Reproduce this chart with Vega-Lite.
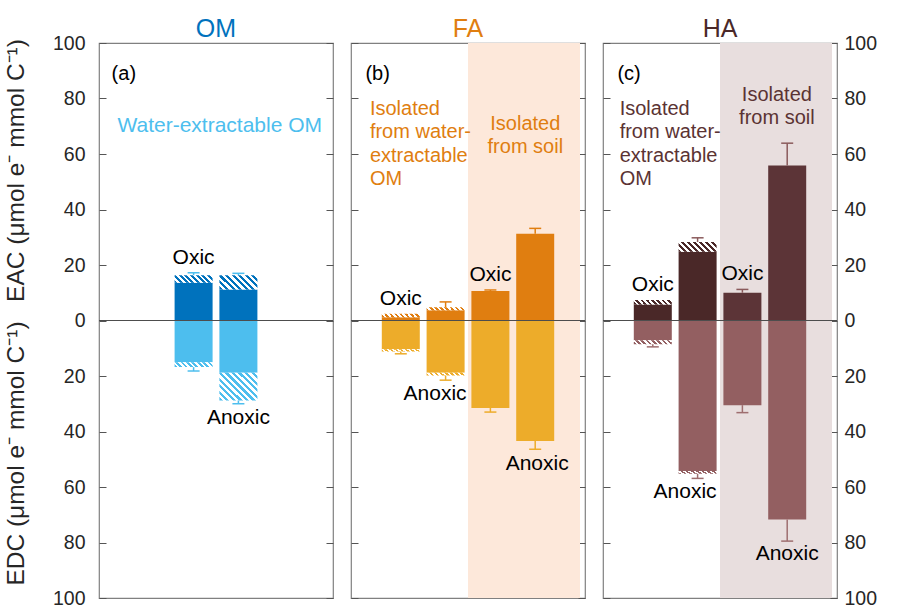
{
"$schema": "https://vega.github.io/schema/vega-lite/v6.json",
"background": "white",
"padding": {"left": 2, "top": 15, "right": 5, "bottom": 0},
"spacing": 14,
"config": {
  "font": "Liberation Sans",
  "view": {"stroke": "#808080", "strokeWidth": 1.2},
  "axis": {"domain": false, "grid": false, "tickSize": -7, "tickColor": "#555555", "tickWidth": 1, "labelFont": "Liberation Sans", "labelFontSize": 19.5, "labelColor": "#262626", "titleFont": "Liberation Sans", "titleFontSize": 24.5, "titleFontWeight": "normal", "titleColor": "#262626"},
  "title": {"font": "Liberation Sans", "fontSize": 25, "fontWeight": "normal", "frame": "group"},
  "text": {"font": "Liberation Sans"}
},
"datasets": {
  "bars": [
    {"panel": "OM", "pos": 2, "cond": "Oxic", "source": "water", "measure": "EAC", "solid": 13.6, "total": 16.3, "err": 17.2},
    {"panel": "OM", "pos": 2, "cond": "Oxic", "source": "water", "measure": "EDC", "solid": -15.0, "total": -16.8, "err": -18.2},
    {"panel": "OM", "pos": 3, "cond": "Anoxic", "source": "water", "measure": "EAC", "solid": 11.2, "total": 16.3, "err": 17.0},
    {"panel": "OM", "pos": 3, "cond": "Anoxic", "source": "water", "measure": "EDC", "solid": -18.8, "total": -28.8, "err": -30.0},
    {"panel": "FA", "pos": 1, "cond": "Oxic", "source": "water", "measure": "EAC", "solid": 1.2, "total": 2.4, "err": 2.4},
    {"panel": "FA", "pos": 1, "cond": "Oxic", "source": "water", "measure": "EDC", "solid": -10.4, "total": -11.2, "err": -12.0},
    {"panel": "FA", "pos": 2, "cond": "Anoxic", "source": "water", "measure": "EAC", "solid": 3.7, "total": 4.8, "err": 6.7},
    {"panel": "FA", "pos": 2, "cond": "Anoxic", "source": "water", "measure": "EDC", "solid": -18.8, "total": -19.8, "err": -21.5},
    {"panel": "FA", "pos": 3, "cond": "Oxic", "source": "soil", "measure": "EAC", "solid": 10.6, "total": 10.6, "err": 11.0},
    {"panel": "FA", "pos": 3, "cond": "Oxic", "source": "soil", "measure": "EDC", "solid": -31.5, "total": -31.5, "err": -33.0},
    {"panel": "FA", "pos": 4, "cond": "Anoxic", "source": "soil", "measure": "EAC", "solid": 31.3, "total": 31.3, "err": 33.2},
    {"panel": "FA", "pos": 4, "cond": "Anoxic", "source": "soil", "measure": "EDC", "solid": -43.4, "total": -43.4, "err": -46.4},
    {"panel": "HA", "pos": 1, "cond": "Oxic", "source": "water", "measure": "EAC", "solid": 5.8, "total": 7.4, "err": 7.4},
    {"panel": "HA", "pos": 1, "cond": "Oxic", "source": "water", "measure": "EDC", "solid": -7.1, "total": -8.6, "err": -9.5},
    {"panel": "HA", "pos": 2, "cond": "Anoxic", "source": "water", "measure": "EAC", "solid": 24.8, "total": 28.3, "err": 29.8},
    {"panel": "HA", "pos": 2, "cond": "Anoxic", "source": "water", "measure": "EDC", "solid": -54.2, "total": -55.2, "err": -56.9},
    {"panel": "HA", "pos": 3, "cond": "Oxic", "source": "soil", "measure": "EAC", "solid": 10.0, "total": 10.0, "err": 11.2},
    {"panel": "HA", "pos": 3, "cond": "Oxic", "source": "soil", "measure": "EDC", "solid": -30.5, "total": -30.5, "err": -33.2},
    {"panel": "HA", "pos": 4, "cond": "Anoxic", "source": "soil", "measure": "EAC", "solid": 55.9, "total": 55.9, "err": 63.9},
    {"panel": "HA", "pos": 4, "cond": "Anoxic", "source": "soil", "measure": "EDC", "solid": -71.7, "total": -71.7, "err": -79.5}
  ]
},
"hconcat": [
{
  "width": 234, "height": 555,
  "title": {"text": "OM", "color": "#0072BD", "offset": -9},
  "data": {"name": "bars"},
  "transform": [{"filter": "datum.panel == 'OM'"}],
  "resolve": {"axis": {"y": "independent"}},
  "layer": [
    {
      "mark": {"type": "bar", "width": 38},
      "encoding": {
        "x": {"field": "pos", "type": "quantitative", "scale": {"domain": [0, 5], "nice": false, "zero": false}, "axis": null},
        "y": {"field": "solid", "type": "quantitative", "scale": {"domain": [-100, 100], "nice": false}, "axis": {"orient": "left", "values": [-100, -80, -60, -40, -20, 0, 20, 40, 60, 80, 100], "labelExpr": "abs(datum.value)", "labelPadding": 21, "title": "EAC (μmol e⁻ mmol C⁻¹)", "titleX": -76, "titleY": 127, "titleAngle": -90, "titleBaseline": "alphabetic", "titleAlign": "center"}},
        "y2": {"datum": 0},
        "color": {"condition": {"test": "datum.measure == 'EAC'", "value": "#0072BD"}, "value": "#4DBEEE"}
      }
    },
    {
      "transform": [{"filter": "datum.measure == 'EAC' && datum.cond == 'Oxic'"}],
      "mark": {"type": "bar", "width": 38, "fill": {"gradient": "linear", "x1": 0, "y1": 1, "x2": 1.1525, "y2": 0.7725, "stops": [{"offset":0,"color":"#0072BD"},{"offset":0.0625,"color":"#0072BD"},{"offset":0.0625,"color":"#FFFFFF"},{"offset":0.125,"color":"#FFFFFF"},{"offset":0.125,"color":"#0072BD"},{"offset":0.1875,"color":"#0072BD"},{"offset":0.1875,"color":"#FFFFFF"},{"offset":0.25,"color":"#FFFFFF"},{"offset":0.25,"color":"#0072BD"},{"offset":0.3125,"color":"#0072BD"},{"offset":0.3125,"color":"#FFFFFF"},{"offset":0.375,"color":"#FFFFFF"},{"offset":0.375,"color":"#0072BD"},{"offset":0.4375,"color":"#0072BD"},{"offset":0.4375,"color":"#FFFFFF"},{"offset":0.5,"color":"#FFFFFF"},{"offset":0.5,"color":"#0072BD"},{"offset":0.5625,"color":"#0072BD"},{"offset":0.5625,"color":"#FFFFFF"},{"offset":0.625,"color":"#FFFFFF"},{"offset":0.625,"color":"#0072BD"},{"offset":0.6875,"color":"#0072BD"},{"offset":0.6875,"color":"#FFFFFF"},{"offset":0.75,"color":"#FFFFFF"},{"offset":0.75,"color":"#0072BD"},{"offset":0.8125,"color":"#0072BD"},{"offset":0.8125,"color":"#FFFFFF"},{"offset":0.875,"color":"#FFFFFF"},{"offset":0.875,"color":"#0072BD"},{"offset":0.9375,"color":"#0072BD"},{"offset":0.9375,"color":"#FFFFFF"},{"offset":1,"color":"#FFFFFF"}]}},
      "encoding": {
        "x": {"field": "pos", "type": "quantitative", "axis": null},
        "y": {"field": "solid", "type": "quantitative", "axis": null},
        "y2": {"field": "total"}
      }
    },
    {
      "transform": [{"filter": "datum.measure == 'EAC' && datum.cond == 'Anoxic'"}],
      "mark": {"type": "bar", "width": 38, "fill": {"gradient": "linear", "x1": 0, "y1": 1, "x2": 1.205, "y2": 0.5495, "stops": [{"offset":0,"color":"#0072BD"},{"offset":0.0625,"color":"#0072BD"},{"offset":0.0625,"color":"#FFFFFF"},{"offset":0.125,"color":"#FFFFFF"},{"offset":0.125,"color":"#0072BD"},{"offset":0.1875,"color":"#0072BD"},{"offset":0.1875,"color":"#FFFFFF"},{"offset":0.25,"color":"#FFFFFF"},{"offset":0.25,"color":"#0072BD"},{"offset":0.3125,"color":"#0072BD"},{"offset":0.3125,"color":"#FFFFFF"},{"offset":0.375,"color":"#FFFFFF"},{"offset":0.375,"color":"#0072BD"},{"offset":0.4375,"color":"#0072BD"},{"offset":0.4375,"color":"#FFFFFF"},{"offset":0.5,"color":"#FFFFFF"},{"offset":0.5,"color":"#0072BD"},{"offset":0.5625,"color":"#0072BD"},{"offset":0.5625,"color":"#FFFFFF"},{"offset":0.625,"color":"#FFFFFF"},{"offset":0.625,"color":"#0072BD"},{"offset":0.6875,"color":"#0072BD"},{"offset":0.6875,"color":"#FFFFFF"},{"offset":0.75,"color":"#FFFFFF"},{"offset":0.75,"color":"#0072BD"},{"offset":0.8125,"color":"#0072BD"},{"offset":0.8125,"color":"#FFFFFF"},{"offset":0.875,"color":"#FFFFFF"},{"offset":0.875,"color":"#0072BD"},{"offset":0.9375,"color":"#0072BD"},{"offset":0.9375,"color":"#FFFFFF"},{"offset":1,"color":"#FFFFFF"}]}},
      "encoding": {
        "x": {"field": "pos", "type": "quantitative", "axis": null},
        "y": {"field": "solid", "type": "quantitative", "axis": null},
        "y2": {"field": "total"}
      }
    },
    {
      "transform": [{"filter": "datum.measure == 'EDC' && datum.cond == 'Oxic'"}],
      "mark": {"type": "bar", "width": 38, "fill": {"gradient": "linear", "x1": 0, "y1": 1, "x2": 1.1123, "y2": 0.8536, "stops": [{"offset":0,"color":"#4DBEEE"},{"offset":0.0625,"color":"#4DBEEE"},{"offset":0.0625,"color":"#FFFFFF"},{"offset":0.125,"color":"#FFFFFF"},{"offset":0.125,"color":"#4DBEEE"},{"offset":0.1875,"color":"#4DBEEE"},{"offset":0.1875,"color":"#FFFFFF"},{"offset":0.25,"color":"#FFFFFF"},{"offset":0.25,"color":"#4DBEEE"},{"offset":0.3125,"color":"#4DBEEE"},{"offset":0.3125,"color":"#FFFFFF"},{"offset":0.375,"color":"#FFFFFF"},{"offset":0.375,"color":"#4DBEEE"},{"offset":0.4375,"color":"#4DBEEE"},{"offset":0.4375,"color":"#FFFFFF"},{"offset":0.5,"color":"#FFFFFF"},{"offset":0.5,"color":"#4DBEEE"},{"offset":0.5625,"color":"#4DBEEE"},{"offset":0.5625,"color":"#FFFFFF"},{"offset":0.625,"color":"#FFFFFF"},{"offset":0.625,"color":"#4DBEEE"},{"offset":0.6875,"color":"#4DBEEE"},{"offset":0.6875,"color":"#FFFFFF"},{"offset":0.75,"color":"#FFFFFF"},{"offset":0.75,"color":"#4DBEEE"},{"offset":0.8125,"color":"#4DBEEE"},{"offset":0.8125,"color":"#FFFFFF"},{"offset":0.875,"color":"#FFFFFF"},{"offset":0.875,"color":"#4DBEEE"},{"offset":0.9375,"color":"#4DBEEE"},{"offset":0.9375,"color":"#FFFFFF"},{"offset":1,"color":"#FFFFFF"}]}},
      "encoding": {
        "x": {"field": "pos", "type": "quantitative", "axis": null},
        "y": {"field": "solid", "type": "quantitative", "axis": null},
        "y2": {"field": "total"}
      }
    },
    {
      "transform": [{"filter": "datum.measure == 'EDC' && datum.cond == 'Anoxic'"}],
      "mark": {"type": "bar", "width": 38, "fill": {"gradient": "linear", "x1": 0, "y1": 1, "x2": 1.128, "y2": 0.1749, "stops": [{"offset":0,"color":"#4DBEEE"},{"offset":0.05,"color":"#4DBEEE"},{"offset":0.05,"color":"#FFFFFF"},{"offset":0.1,"color":"#FFFFFF"},{"offset":0.1,"color":"#4DBEEE"},{"offset":0.15,"color":"#4DBEEE"},{"offset":0.15,"color":"#FFFFFF"},{"offset":0.2,"color":"#FFFFFF"},{"offset":0.2,"color":"#4DBEEE"},{"offset":0.25,"color":"#4DBEEE"},{"offset":0.25,"color":"#FFFFFF"},{"offset":0.3,"color":"#FFFFFF"},{"offset":0.3,"color":"#4DBEEE"},{"offset":0.35,"color":"#4DBEEE"},{"offset":0.35,"color":"#FFFFFF"},{"offset":0.4,"color":"#FFFFFF"},{"offset":0.4,"color":"#4DBEEE"},{"offset":0.45,"color":"#4DBEEE"},{"offset":0.45,"color":"#FFFFFF"},{"offset":0.5,"color":"#FFFFFF"},{"offset":0.5,"color":"#4DBEEE"},{"offset":0.55,"color":"#4DBEEE"},{"offset":0.55,"color":"#FFFFFF"},{"offset":0.6,"color":"#FFFFFF"},{"offset":0.6,"color":"#4DBEEE"},{"offset":0.65,"color":"#4DBEEE"},{"offset":0.65,"color":"#FFFFFF"},{"offset":0.7,"color":"#FFFFFF"},{"offset":0.7,"color":"#4DBEEE"},{"offset":0.75,"color":"#4DBEEE"},{"offset":0.75,"color":"#FFFFFF"},{"offset":0.8,"color":"#FFFFFF"},{"offset":0.8,"color":"#4DBEEE"},{"offset":0.85,"color":"#4DBEEE"},{"offset":0.85,"color":"#FFFFFF"},{"offset":0.9,"color":"#FFFFFF"},{"offset":0.9,"color":"#4DBEEE"},{"offset":0.95,"color":"#4DBEEE"},{"offset":0.95,"color":"#FFFFFF"},{"offset":1,"color":"#FFFFFF"}]}},
      "encoding": {
        "x": {"field": "pos", "type": "quantitative", "axis": null},
        "y": {"field": "solid", "type": "quantitative", "axis": null},
        "y2": {"field": "total"}
      }
    },
    {
      "transform": [{"filter": "datum.err != datum.total"}],
      "mark": {"type": "rule", "strokeWidth": 1.5},
      "encoding": {
        "x": {"field": "pos", "type": "quantitative", "axis": null},
        "y": {"field": "total", "type": "quantitative", "axis": {"orient": "left", "labels": false, "ticks": false, "domain": false, "title": "EDC (μmol e⁻ mmol C⁻¹)", "titleX": -76, "titleY": 410, "titleAngle": -90, "titleBaseline": "alphabetic", "titleAlign": "center"}},
        "y2": {"field": "err"},
        "color": {"value": "#4DBEEE"}
      }
    },
    {
      "transform": [{"filter": "datum.err != datum.total"}],
      "mark": {"type": "point", "shape": "stroke", "size": 144, "strokeWidth": 1.5, "filled": false, "opacity": 1},
      "encoding": {
        "x": {"field": "pos", "type": "quantitative", "axis": null},
        "y": {"field": "err", "type": "quantitative", "axis": null},
        "color": {"value": "#4DBEEE"}
      }
    },
    {
      "data": {"values": [{}]},
      "mark": {"type": "rule", "color": "#4D4D4D", "strokeWidth": 1},
      "encoding": {
        "y": {"datum": 0, "type": "quantitative", "axis": {"orient": "right", "values": [-100, -80, -60, -40, -20, 0, 20, 40, 60, 80, 100], "labels": false, "title": null}}
      }
    },
    {
      "data": {"values": [{}]},
      "mark": {"type": "text", "text": "(a)", "align": "left", "baseline": "middle", "fontSize": 20, "color": "#000000"},
      "encoding": {
        "x": {"datum": 0.17, "type": "quantitative", "axis": null},
        "y": {"datum": 89, "type": "quantitative", "axis": null}
      }
    },
    {
      "data": {"values": [{}]},
      "mark": {"type": "text", "text": "Water-extractable OM", "align": "left", "baseline": "middle", "fontSize": 21, "color": "#4DBEEE"},
      "encoding": {
        "x": {"datum": 0.3, "type": "quantitative", "axis": null},
        "y": {"datum": 70.1, "type": "quantitative", "axis": null}
      }
    },
    {
      "transform": [{"filter": "datum.measure == 'EAC' && datum.cond == 'Oxic'"}],
      "mark": {"type": "text", "align": "center", "baseline": "middle", "dy": -15, "fontSize": 21, "color": "#000000"},
      "encoding": {
        "x": {"field": "pos", "type": "quantitative", "axis": null},
        "y": {"field": "err", "type": "quantitative", "axis": null},
        "text": {"field": "cond"}
      }
    },
    {
      "transform": [{"filter": "datum.measure == 'EDC' && datum.cond == 'Anoxic'"}],
      "mark": {"type": "text", "align": "center", "baseline": "middle", "dy": 14, "fontSize": 21, "color": "#000000"},
      "encoding": {
        "x": {"field": "pos", "type": "quantitative", "axis": null},
        "y": {"field": "err", "type": "quantitative", "axis": null},
        "text": {"field": "cond"}
      }
    }
  ]
},
{
  "width": 234, "height": 555,
  "title": {"text": "FA", "color": "#E07E10", "offset": 1},
  "data": {"name": "bars"},
  "transform": [{"filter": "datum.panel == 'FA'"}],
  "resolve": {"axis": {"y": "independent"}},
  "layer": [
    {
      "data": {"values": [{}]},
      "mark": {"type": "rect", "color": "#FDE8DA"},
      "encoding": {
        "x": {"datum": 2.5, "type": "quantitative", "scale": {"domain": [0, 5], "nice": false, "zero": false}, "axis": null},
        "x2": {"datum": 5},
        "y": {"datum": -100, "type": "quantitative", "scale": {"domain": [-100, 100], "nice": false}, "axis": null},
        "y2": {"datum": 100}
      }
    },
    {
      "mark": {"type": "bar", "width": 38},
      "encoding": {
        "x": {"field": "pos", "type": "quantitative", "scale": {"domain": [0, 5], "nice": false, "zero": false}, "axis": null},
        "y": {"field": "solid", "type": "quantitative", "scale": {"domain": [-100, 100], "nice": false}, "axis": {"orient": "left", "values": [-100, -80, -60, -40, -20, 0, 20, 40, 60, 80, 100], "labels": false, "title": null}},
        "y2": {"datum": 0},
        "color": {"condition": {"test": "datum.measure == 'EAC'", "value": "#E07E10"}, "value": "#EDAC2A"}
      }
    },
    {
      "transform": [{"filter": "datum.measure == 'EAC' && datum.solid != datum.total"}],
      "mark": {"type": "bar", "width": 38, "fill": {"gradient": "linear", "x1": 0, "y1": 1, "x2": 1.072, "y2": 0.915, "stops": [{"offset":0,"color":"#E07E10"},{"offset":0.0625,"color":"#E07E10"},{"offset":0.0625,"color":"#FFFFFF"},{"offset":0.125,"color":"#FFFFFF"},{"offset":0.125,"color":"#E07E10"},{"offset":0.1875,"color":"#E07E10"},{"offset":0.1875,"color":"#FFFFFF"},{"offset":0.25,"color":"#FFFFFF"},{"offset":0.25,"color":"#E07E10"},{"offset":0.3125,"color":"#E07E10"},{"offset":0.3125,"color":"#FFFFFF"},{"offset":0.375,"color":"#FFFFFF"},{"offset":0.375,"color":"#E07E10"},{"offset":0.4375,"color":"#E07E10"},{"offset":0.4375,"color":"#FFFFFF"},{"offset":0.5,"color":"#FFFFFF"},{"offset":0.5,"color":"#E07E10"},{"offset":0.5625,"color":"#E07E10"},{"offset":0.5625,"color":"#FFFFFF"},{"offset":0.625,"color":"#FFFFFF"},{"offset":0.625,"color":"#E07E10"},{"offset":0.6875,"color":"#E07E10"},{"offset":0.6875,"color":"#FFFFFF"},{"offset":0.75,"color":"#FFFFFF"},{"offset":0.75,"color":"#E07E10"},{"offset":0.8125,"color":"#E07E10"},{"offset":0.8125,"color":"#FFFFFF"},{"offset":0.875,"color":"#FFFFFF"},{"offset":0.875,"color":"#E07E10"},{"offset":0.9375,"color":"#E07E10"},{"offset":0.9375,"color":"#FFFFFF"},{"offset":1,"color":"#FFFFFF"}]}},
      "encoding": {
        "x": {"field": "pos", "type": "quantitative", "axis": null},
        "y": {"field": "solid", "type": "quantitative", "axis": null},
        "y2": {"field": "total"}
      }
    },
    {
      "transform": [{"filter": "datum.measure == 'EDC' && datum.solid != datum.total"}],
      "mark": {"type": "bar", "width": 38, "fill": {"gradient": "linear", "x1": 0, "y1": 1, "x2": 1.072, "y2": 0.915, "stops": [{"offset":0,"color":"#EDAC2A"},{"offset":0.0625,"color":"#EDAC2A"},{"offset":0.0625,"color":"#FFFFFF"},{"offset":0.125,"color":"#FFFFFF"},{"offset":0.125,"color":"#EDAC2A"},{"offset":0.1875,"color":"#EDAC2A"},{"offset":0.1875,"color":"#FFFFFF"},{"offset":0.25,"color":"#FFFFFF"},{"offset":0.25,"color":"#EDAC2A"},{"offset":0.3125,"color":"#EDAC2A"},{"offset":0.3125,"color":"#FFFFFF"},{"offset":0.375,"color":"#FFFFFF"},{"offset":0.375,"color":"#EDAC2A"},{"offset":0.4375,"color":"#EDAC2A"},{"offset":0.4375,"color":"#FFFFFF"},{"offset":0.5,"color":"#FFFFFF"},{"offset":0.5,"color":"#EDAC2A"},{"offset":0.5625,"color":"#EDAC2A"},{"offset":0.5625,"color":"#FFFFFF"},{"offset":0.625,"color":"#FFFFFF"},{"offset":0.625,"color":"#EDAC2A"},{"offset":0.6875,"color":"#EDAC2A"},{"offset":0.6875,"color":"#FFFFFF"},{"offset":0.75,"color":"#FFFFFF"},{"offset":0.75,"color":"#EDAC2A"},{"offset":0.8125,"color":"#EDAC2A"},{"offset":0.8125,"color":"#FFFFFF"},{"offset":0.875,"color":"#FFFFFF"},{"offset":0.875,"color":"#EDAC2A"},{"offset":0.9375,"color":"#EDAC2A"},{"offset":0.9375,"color":"#FFFFFF"},{"offset":1,"color":"#FFFFFF"}]}},
      "encoding": {
        "x": {"field": "pos", "type": "quantitative", "axis": null},
        "y": {"field": "solid", "type": "quantitative", "axis": null},
        "y2": {"field": "total"}
      }
    },
    {
      "transform": [{"filter": "datum.err != datum.total"}],
      "mark": {"type": "rule", "strokeWidth": 1.5},
      "encoding": {
        "x": {"field": "pos", "type": "quantitative", "axis": null},
        "y": {"field": "total", "type": "quantitative", "axis": null},
        "y2": {"field": "err"},
        "color": {"condition": {"test": "datum.measure == 'EAC'", "value": "#E07E10"}, "value": "#EDAC2A"}
      }
    },
    {
      "transform": [{"filter": "datum.err != datum.total"}],
      "mark": {"type": "point", "shape": "stroke", "size": 144, "strokeWidth": 1.5, "filled": false, "opacity": 1},
      "encoding": {
        "x": {"field": "pos", "type": "quantitative", "axis": null},
        "y": {"field": "err", "type": "quantitative", "axis": null},
        "color": {"condition": {"test": "datum.measure == 'EAC'", "value": "#E07E10"}, "value": "#EDAC2A"}
      }
    },
    {
      "data": {"values": [{}]},
      "mark": {"type": "rule", "color": "#4D4D4D", "strokeWidth": 1},
      "encoding": {
        "y": {"datum": 0, "type": "quantitative", "axis": {"orient": "right", "values": [-100, -80, -60, -40, -20, 0, 20, 40, 60, 80, 100], "labels": false, "title": null}}
      }
    },
    {
      "data": {"values": [{}]},
      "mark": {"type": "text", "text": "(b)", "align": "left", "baseline": "middle", "fontSize": 20, "color": "#000000"},
      "encoding": {
        "x": {"datum": 0.21, "type": "quantitative", "axis": null},
        "y": {"datum": 88.8, "type": "quantitative", "axis": null}
      }
    },
    {
      "data": {"values": [{}]},
      "mark": {"type": "text", "text": ["Isolated", "from water-", "extractable", "OM"], "lineHeight": 23.4, "align": "left", "baseline": "top", "fontSize": 20, "color": "#E07E10"},
      "encoding": {
        "x": {"datum": 0.31, "type": "quantitative", "axis": null},
        "y": {"datum": 79.9, "type": "quantitative", "axis": null}
      }
    },
    {
      "data": {"values": [{}]},
      "mark": {"type": "text", "text": ["Isolated", "from soil"], "lineHeight": 23.4, "align": "center", "baseline": "top", "fontSize": 20, "color": "#E07E10"},
      "encoding": {
        "x": {"datum": 3.78, "type": "quantitative", "axis": null},
        "y": {"datum": 74.5, "type": "quantitative", "axis": null}
      }
    },
    {
      "transform": [{"filter": "datum.measure == 'EAC' && datum.cond == 'Oxic'"}],
      "mark": {"type": "text", "align": "center", "baseline": "middle", "dy": -15, "fontSize": 21, "color": "#000000"},
      "encoding": {
        "x": {"field": "pos", "type": "quantitative", "axis": null},
        "y": {"field": "err", "type": "quantitative", "axis": null},
        "text": {"field": "cond"}
      }
    },
    {
      "transform": [{"filter": "datum.measure == 'EDC' && datum.cond == 'Anoxic' && datum.source == 'water'"}],
      "mark": {"type": "text", "align": "right", "baseline": "middle", "dx": 21, "dy": 14, "fontSize": 21, "color": "#000000"},
      "encoding": {
        "x": {"field": "pos", "type": "quantitative", "axis": null},
        "y": {"field": "err", "type": "quantitative", "axis": null},
        "text": {"field": "cond"}
      }
    },
    {
      "transform": [{"filter": "datum.measure == 'EDC' && datum.cond == 'Anoxic' && datum.source == 'soil'"}],
      "mark": {"type": "text", "align": "center", "baseline": "middle", "dx": 2, "dy": 15, "fontSize": 21, "color": "#000000"},
      "encoding": {
        "x": {"field": "pos", "type": "quantitative", "axis": null},
        "y": {"field": "err", "type": "quantitative", "axis": null},
        "text": {"field": "cond"}
      }
    }
  ]
},
{
  "width": 234, "height": 555,
  "title": {"text": "HA", "color": "#4A2828", "offset": -9},
  "data": {"name": "bars"},
  "transform": [{"filter": "datum.panel == 'HA'"}],
  "resolve": {"axis": {"y": "independent"}},
  "layer": [
    {
      "data": {"values": [{}]},
      "mark": {"type": "rect", "color": "#E8DEDE"},
      "encoding": {
        "x": {"datum": 2.5, "type": "quantitative", "scale": {"domain": [0, 5], "nice": false, "zero": false}, "axis": null},
        "x2": {"datum": 5},
        "y": {"datum": -100, "type": "quantitative", "scale": {"domain": [-100, 100], "nice": false}, "axis": null},
        "y2": {"datum": 100}
      }
    },
    {
      "mark": {"type": "bar", "width": 38},
      "encoding": {
        "x": {"field": "pos", "type": "quantitative", "scale": {"domain": [0, 5], "nice": false, "zero": false}, "axis": null},
        "y": {"field": "solid", "type": "quantitative", "scale": {"domain": [-100, 100], "nice": false}, "axis": {"orient": "left", "values": [-100, -80, -60, -40, -20, 0, 20, 40, 60, 80, 100], "labels": false, "title": null}},
        "y2": {"datum": 0},
        "color": {"condition": [{"test": "datum.measure == 'EAC' && datum.source == 'soil'", "value": "#5C3437"}, {"test": "datum.measure == 'EAC'", "value": "#4A2828"}], "value": "#935F61"}
      }
    },
    {
      "transform": [{"filter": "datum.measure == 'EAC' && datum.cond == 'Oxic' && datum.solid != datum.total"}],
      "mark": {"type": "bar", "width": 38, "fill": {"gradient": "linear", "x1": 0, "y1": 1, "x2": 1.099, "y2": 0.876, "stops": [{"offset":0,"color":"#4A2828"},{"offset":0.0625,"color":"#4A2828"},{"offset":0.0625,"color":"#FFFFFF"},{"offset":0.125,"color":"#FFFFFF"},{"offset":0.125,"color":"#4A2828"},{"offset":0.1875,"color":"#4A2828"},{"offset":0.1875,"color":"#FFFFFF"},{"offset":0.25,"color":"#FFFFFF"},{"offset":0.25,"color":"#4A2828"},{"offset":0.3125,"color":"#4A2828"},{"offset":0.3125,"color":"#FFFFFF"},{"offset":0.375,"color":"#FFFFFF"},{"offset":0.375,"color":"#4A2828"},{"offset":0.4375,"color":"#4A2828"},{"offset":0.4375,"color":"#FFFFFF"},{"offset":0.5,"color":"#FFFFFF"},{"offset":0.5,"color":"#4A2828"},{"offset":0.5625,"color":"#4A2828"},{"offset":0.5625,"color":"#FFFFFF"},{"offset":0.625,"color":"#FFFFFF"},{"offset":0.625,"color":"#4A2828"},{"offset":0.6875,"color":"#4A2828"},{"offset":0.6875,"color":"#FFFFFF"},{"offset":0.75,"color":"#FFFFFF"},{"offset":0.75,"color":"#4A2828"},{"offset":0.8125,"color":"#4A2828"},{"offset":0.8125,"color":"#FFFFFF"},{"offset":0.875,"color":"#FFFFFF"},{"offset":0.875,"color":"#4A2828"},{"offset":0.9375,"color":"#4A2828"},{"offset":0.9375,"color":"#FFFFFF"},{"offset":1,"color":"#FFFFFF"}]}},
      "encoding": {
        "x": {"field": "pos", "type": "quantitative", "axis": null},
        "y": {"field": "solid", "type": "quantitative", "axis": null},
        "y2": {"field": "total"}
      }
    },
    {
      "transform": [{"filter": "datum.measure == 'EAC' && datum.cond == 'Anoxic' && datum.solid != datum.total"}],
      "mark": {"type": "bar", "width": 38, "fill": {"gradient": "linear", "x1": 0, "y1": 1, "x2": 1.178, "y2": 0.699, "stops": [{"offset":0,"color":"#4A2828"},{"offset":0.0625,"color":"#4A2828"},{"offset":0.0625,"color":"#FFFFFF"},{"offset":0.125,"color":"#FFFFFF"},{"offset":0.125,"color":"#4A2828"},{"offset":0.1875,"color":"#4A2828"},{"offset":0.1875,"color":"#FFFFFF"},{"offset":0.25,"color":"#FFFFFF"},{"offset":0.25,"color":"#4A2828"},{"offset":0.3125,"color":"#4A2828"},{"offset":0.3125,"color":"#FFFFFF"},{"offset":0.375,"color":"#FFFFFF"},{"offset":0.375,"color":"#4A2828"},{"offset":0.4375,"color":"#4A2828"},{"offset":0.4375,"color":"#FFFFFF"},{"offset":0.5,"color":"#FFFFFF"},{"offset":0.5,"color":"#4A2828"},{"offset":0.5625,"color":"#4A2828"},{"offset":0.5625,"color":"#FFFFFF"},{"offset":0.625,"color":"#FFFFFF"},{"offset":0.625,"color":"#4A2828"},{"offset":0.6875,"color":"#4A2828"},{"offset":0.6875,"color":"#FFFFFF"},{"offset":0.75,"color":"#FFFFFF"},{"offset":0.75,"color":"#4A2828"},{"offset":0.8125,"color":"#4A2828"},{"offset":0.8125,"color":"#FFFFFF"},{"offset":0.875,"color":"#FFFFFF"},{"offset":0.875,"color":"#4A2828"},{"offset":0.9375,"color":"#4A2828"},{"offset":0.9375,"color":"#FFFFFF"},{"offset":1,"color":"#FFFFFF"}]}},
      "encoding": {
        "x": {"field": "pos", "type": "quantitative", "axis": null},
        "y": {"field": "solid", "type": "quantitative", "axis": null},
        "y2": {"field": "total"}
      }
    },
    {
      "transform": [{"filter": "datum.measure == 'EDC' && datum.solid != datum.total"}],
      "mark": {"type": "bar", "width": 38, "fill": {"gradient": "linear", "x1": 0, "y1": 1, "x2": 1.099, "y2": 0.876, "stops": [{"offset":0,"color":"#935F61"},{"offset":0.0625,"color":"#935F61"},{"offset":0.0625,"color":"#FFFFFF"},{"offset":0.125,"color":"#FFFFFF"},{"offset":0.125,"color":"#935F61"},{"offset":0.1875,"color":"#935F61"},{"offset":0.1875,"color":"#FFFFFF"},{"offset":0.25,"color":"#FFFFFF"},{"offset":0.25,"color":"#935F61"},{"offset":0.3125,"color":"#935F61"},{"offset":0.3125,"color":"#FFFFFF"},{"offset":0.375,"color":"#FFFFFF"},{"offset":0.375,"color":"#935F61"},{"offset":0.4375,"color":"#935F61"},{"offset":0.4375,"color":"#FFFFFF"},{"offset":0.5,"color":"#FFFFFF"},{"offset":0.5,"color":"#935F61"},{"offset":0.5625,"color":"#935F61"},{"offset":0.5625,"color":"#FFFFFF"},{"offset":0.625,"color":"#FFFFFF"},{"offset":0.625,"color":"#935F61"},{"offset":0.6875,"color":"#935F61"},{"offset":0.6875,"color":"#FFFFFF"},{"offset":0.75,"color":"#FFFFFF"},{"offset":0.75,"color":"#935F61"},{"offset":0.8125,"color":"#935F61"},{"offset":0.8125,"color":"#FFFFFF"},{"offset":0.875,"color":"#FFFFFF"},{"offset":0.875,"color":"#935F61"},{"offset":0.9375,"color":"#935F61"},{"offset":0.9375,"color":"#FFFFFF"},{"offset":1,"color":"#FFFFFF"}]}},
      "encoding": {
        "x": {"field": "pos", "type": "quantitative", "axis": null},
        "y": {"field": "solid", "type": "quantitative", "axis": null},
        "y2": {"field": "total"}
      }
    },
    {
      "transform": [{"filter": "datum.err != datum.total"}],
      "mark": {"type": "rule", "strokeWidth": 1.5},
      "encoding": {
        "x": {"field": "pos", "type": "quantitative", "axis": null},
        "y": {"field": "total", "type": "quantitative", "axis": null},
        "y2": {"field": "err"},
        "color": {"condition": {"test": "datum.measure == 'EAC'", "value": "#8A5A5B"}, "value": "#9E6E6F"}
      }
    },
    {
      "transform": [{"filter": "datum.err != datum.total"}],
      "mark": {"type": "point", "shape": "stroke", "size": 144, "strokeWidth": 1.5, "filled": false, "opacity": 1},
      "encoding": {
        "x": {"field": "pos", "type": "quantitative", "axis": null},
        "y": {"field": "err", "type": "quantitative", "axis": null},
        "color": {"condition": {"test": "datum.measure == 'EAC'", "value": "#8A5A5B"}, "value": "#9E6E6F"}
      }
    },
    {
      "data": {"values": [{}]},
      "mark": {"type": "rule", "color": "#4D4D4D", "strokeWidth": 1},
      "encoding": {
        "y": {"datum": 0, "type": "quantitative", "axis": {"orient": "right", "values": [-100, -80, -60, -40, -20, 0, 20, 40, 60, 80, 100], "labelExpr": "abs(datum.value)", "labelPadding": 14, "title": null}}
      }
    },
    {
      "data": {"values": [{}]},
      "mark": {"type": "text", "text": "(c)", "align": "left", "baseline": "middle", "fontSize": 20, "color": "#000000"},
      "encoding": {
        "x": {"datum": 0.21, "type": "quantitative", "axis": null},
        "y": {"datum": 88.8, "type": "quantitative", "axis": null}
      }
    },
    {
      "data": {"values": [{}]},
      "mark": {"type": "text", "text": ["Isolated", "from water-", "extractable", "OM"], "lineHeight": 23.4, "align": "left", "baseline": "top", "fontSize": 20, "color": "#5B3333"},
      "encoding": {
        "x": {"datum": 0.26, "type": "quantitative", "axis": null},
        "y": {"datum": 79.9, "type": "quantitative", "axis": null}
      }
    },
    {
      "data": {"values": [{}]},
      "mark": {"type": "text", "text": ["Isolated", "from soil"], "lineHeight": 23.4, "align": "center", "baseline": "top", "fontSize": 20, "color": "#5B3333"},
      "encoding": {
        "x": {"datum": 3.77, "type": "quantitative", "axis": null},
        "y": {"datum": 85.0, "type": "quantitative", "axis": null}
      }
    },
    {
      "transform": [{"filter": "datum.measure == 'EAC' && datum.cond == 'Oxic'"}],
      "mark": {"type": "text", "align": "center", "baseline": "middle", "dy": -15, "fontSize": 21, "color": "#000000"},
      "encoding": {
        "x": {"field": "pos", "type": "quantitative", "axis": null},
        "y": {"field": "err", "type": "quantitative", "axis": null},
        "text": {"field": "cond"}
      }
    },
    {
      "transform": [{"filter": "datum.measure == 'EDC' && datum.cond == 'Anoxic' && datum.source == 'water'"}],
      "mark": {"type": "text", "align": "right", "baseline": "middle", "dx": 19, "dy": 14, "fontSize": 21, "color": "#000000"},
      "encoding": {
        "x": {"field": "pos", "type": "quantitative", "axis": null},
        "y": {"field": "err", "type": "quantitative", "axis": null},
        "text": {"field": "cond"}
      }
    },
    {
      "transform": [{"filter": "datum.measure == 'EDC' && datum.cond == 'Anoxic' && datum.source == 'soil'"}],
      "mark": {"type": "text", "align": "center", "baseline": "middle", "dy": 13, "fontSize": 21, "color": "#000000"},
      "encoding": {
        "x": {"field": "pos", "type": "quantitative", "axis": null},
        "y": {"field": "err", "type": "quantitative", "axis": null},
        "text": {"field": "cond"}
      }
    }
  ]
}
]
}
